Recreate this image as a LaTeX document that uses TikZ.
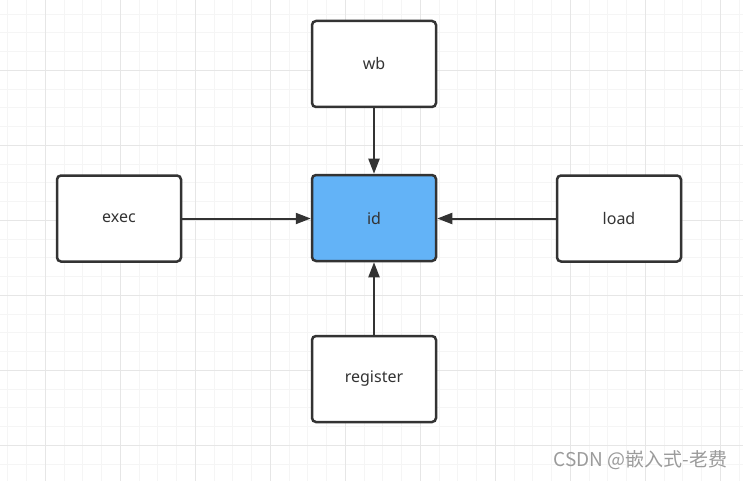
\documentclass[tikz,border=0pt]{standalone}
\usepackage{fontspec}
\setmainfont{Noto Sans}
\newfontfamily\cjkfont{Noto Sans CJK SC}
\usepackage{xcolor}
\usetikzlibrary{arrows.meta}

\definecolor{gridminor}{RGB}{245,245,245}
\definecolor{gridmajor}{RGB}{230,230,230}
\definecolor{boxline}{RGB}{51,51,51}
\definecolor{idblue}{RGB}{99,179,247}
\definecolor{markgray}{RGB}{155,155,155}

\begin{document}
\begin{tikzpicture}[x=1pt,y=-1pt,
    stage/.style={draw=boxline, line width=2.5pt, rounded corners=4pt, fill=white,
      minimum width=124pt, minimum height=86pt, inner sep=0pt,
      text=boxline, font=\fontsize{16}{18}\selectfont},
    link/.style={draw=boxline, line width=2pt, -{Triangle[length=15pt,width=11pt]}}]
  \useasboundingbox (0,0) rectangle (743,481);
  \fill[white] (0,0) rectangle (743,481);
  % grid
  \foreach \x in {7.8,26.55,...,743} \draw[gridminor, line width=1pt] (\x,0) -- (\x,481);
  \foreach \y in {14.05,32.8,...,481} \draw[gridminor, line width=1pt] (0,\y) -- (743,\y);
  \foreach \x in {45.3,120.3,...,743} \draw[gridmajor, line width=1pt] (\x,0) -- (\x,481);
  \foreach \y in {70.3,145.3,...,481} \draw[gridmajor, line width=1pt] (0,\y) -- (743,\y);
  % stages
  \node[stage, fill=idblue] (id) at (374,218) {id};
  \node[stage] (wb) at (374,64) {wb};
  \node[stage] (exec) at (119,218.5) {exec};
  \node[stage] (load) at (619,218.5) {load};
  \node[stage] (register) at (374,379) {register};
  % links
  \draw[link] (wb) -- (id);
  \draw[link] (exec.east) -- (id.west |- exec.east);
  \draw[link] (load.west) -- (id.east |- load.west);
  \draw[link] (register) -- (id);
  \node[anchor=east, text=markgray, font=\cjkfont\fontsize{19}{21}\selectfont] (watermark) at (731,460) {CSDN @嵌入式-老费};
\end{tikzpicture}
\end{document}
